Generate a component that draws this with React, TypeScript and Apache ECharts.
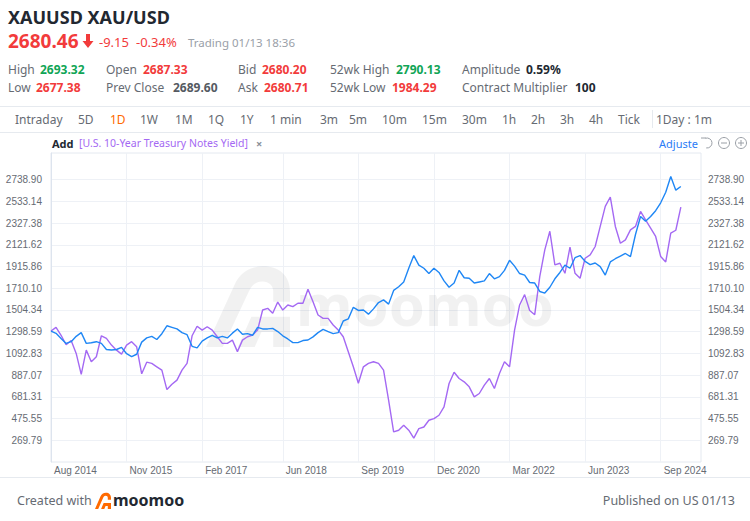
import React, { useEffect, useRef } from "react";
import * as echarts from "echarts";

// ---------- data ----------
const MONTH_NAMES = ["Jan", "Feb", "Mar", "Apr", "May", "Jun", "Jul", "Aug", "Sep", "Oct", "Nov", "Dec"];
const START_YEAR = 2014;
const START_MONTH = 7; // Aug
const CATEGORY_COUNT = 130;

const xLabels = ["Aug 2014", "Nov 2015", "Feb 2017", "Jun 2018", "Sep 2019", "Dec 2020", "Mar 2022", "Jun 2023", "Sep 2024"];

const yTicks = [269.79, 475.55, 681.31, 887.07, 1092.83, 1298.59, 1504.34, 1710.1, 1915.86, 2121.62, 2327.38, 2533.14, 2738.9];
const yMin = 64.03;
const yMax = 2992;

// XAUUSD monthly (Aug 2014 -> Jan 2025)
const goldPrice = [
  1305, 1283, 1235, 1188, 1204, 1255, 1290, 1188, 1194, 1204,
  1188, 1130, 1125, 1130, 1150, 1090, 1062, 1085, 1200, 1240,
  1255, 1225, 1280, 1355, 1340, 1325, 1290, 1270, 1160, 1145,
  1210, 1240, 1265, 1240, 1255, 1240, 1285, 1325, 1275, 1280,
  1265, 1340, 1325, 1325, 1330, 1300, 1260, 1230, 1195, 1195,
  1215, 1220, 1250, 1290, 1320, 1300, 1280, 1290, 1400, 1420,
  1530, 1500, 1505, 1465, 1515, 1575, 1600, 1560, 1690, 1725,
  1770, 1900, 2020, 1930, 1900, 1850, 1900, 1860, 1780, 1720,
  1760, 1880, 1810, 1805, 1760, 1770, 1780, 1850, 1800, 1820,
  1880, 1975, 1920, 1850, 1835, 1765, 1760, 1680, 1665, 1720,
  1800, 1860, 1930, 1900, 2000, 2020, 1965, 1935, 1950, 1915,
  1835, 1960, 1990, 2015, 2040, 2010, 2220, 2390, 2345, 2390,
  2445, 2520, 2620, 2770, 2640, 2675,
];

// U.S. 10-Year Treasury Notes Yield, overlaid on the price scale
const treasuryYield = [
  1305, 1340, 1265, 1175, 1215, 1093, 895, 1124, 1014, 1061,
  1260, 1235, 1172, 1124, 1086, 1172, 1204, 1156, 900, 1010,
  998, 966, 934, 750, 800, 840, 934, 998, 1260, 1350,
  1314, 1346, 1314, 1251, 1188, 1188, 1219, 1110, 1219, 1251,
  1267, 1314, 1504, 1520, 1473, 1580, 1504, 1552, 1536, 1568,
  1568, 1700, 1583, 1457, 1425, 1425, 1362, 1314, 1251, 1109,
  966, 810, 966, 998, 1014, 998, 934, 650, 349, 365,
  412, 365, 290, 380, 396, 460, 475, 507, 586, 808,
  915, 855, 824, 776, 681, 713, 792, 855, 760, 903,
  1014, 966, 1314, 1552, 1650, 1500, 1460, 1821, 2074, 2250,
  1932, 1947, 1852, 2100, 1852, 1805, 1995, 2026, 2106, 2296,
  2486, 2575, 2296, 2137, 2169, 2264, 2296, 2438, 2359, 2280,
  2201, 2011, 1960, 2232, 2260, 2480,
];

// header texts
const titleText = "XAUUSD XAU/USD";
const lastPrice = "2680.46";
const change = "-9.15";
const changePct = "-0.34%";
const statusText = "Trading 01/13 18:36";
const row1Labels = ["High", "Open", "Bid", "52wk High", "Amplitude"];
const row1Values = ["2693.32", "2687.33", "2680.20", "2790.13", "0.59%"];
const row2Labels = ["Low", "Prev Close", "Ask", "52wk Low", "Contract Multiplier"];
const row2Values = ["2677.38", "2689.60", "2680.71", "1984.29", "100"];
const periodTabs = ["Intraday", "5D", "1D", "1W", "1M", "1Q", "1Y", "1 min", "3m", "5m", "10m", "15m", "30m", "1h", "2h", "3h", "4h", "Tick"];
const periodInfo = "1Day : 1m";
const compareName = "[U.S. 10-Year Treasury Notes Yield]";

// ---------- layout / style ----------
const FAM = '"Noto Sans", sans-serif';
const AXIS_FAM = '"Liberation Sans", Arial, sans-serif';
const RED = "#f23b3b";
const GREEN = "#10a556";
const DARK = "#222831";
const GRAY = "#666b73";
const BLUE_LINE = "#1f87f5";
const PURPLE_LINE = "#a469f3";
const GRID_LINE = "#eef1f6";
const SEP = "#e6eaef";

const row1LabelX = [8, 106, 238, 330, 462];
const row1ValueX = [40, 143, 262, 396, 526];
const row1Colors = [GREEN, RED, RED, GREEN, DARK];
const row2LabelX = [8, 106, 238, 330, 462];
const row2ValueX = [36, 173, 264, 392, 575];
const row2Colors = [RED, "#555a62", RED, RED, DARK];
const tabX = [15, 78, 110, 140, 175, 208, 240, 270, 320, 349, 382, 422, 462, 502, 531, 560, 589, 618];

const LOGO_D =
  "M0 100 L34 26 C40 12 52 4 68 4 C88 4 100 16 100 34 L100 46 L80 46 L80 34 C80 27 75 22 67 22 C59 22 54 27 51 34 L20 100 Z " +
  "M38 100 L54 64 L100 64 L100 100 L80 100 L80 82 L66 82 L58 100 Z";

let registered = false;
function registerLogo() {
  if (registered) return;
  echarts.graphic.registerShape("logo", echarts.graphic.extendPath(LOGO_D, {}));
  registered = true;
}

function txt(x: number, y: number, text: string, color: string, size: number, weight: string = "normal", align: string = "left", extra: any = {}) {
  return {
    type: "text",
    x,
    y,
    silent: true,
    style: {
      text,
      fill: color,
      fontSize: size,
      fontWeight: weight,
      fontFamily: FAM,
      verticalAlign: "middle",
      align,
      ...extra,
    },
  };
}

function hline(y: number, x1: number, x2: number, color: string) {
  return { type: "line", silent: true, shape: { x1, y1: y, x2, y2: y }, style: { stroke: color, lineWidth: 1 } };
}

export default function App() {
  const ref = useRef<HTMLDivElement>(null);

  useEffect(() => {
    if (!ref.current) return;
    registerLogo();
    const chart = echarts.init(ref.current, undefined, { renderer: "svg" });

    const categories: string[] = [];
    for (let i = 0; i < CATEGORY_COUNT; i++) {
      const m = START_MONTH + i;
      categories.push(MONTH_NAMES[m % 12] + " " + (START_YEAR + Math.floor(m / 12)));
    }
    const showLabel = (_idx: number, value: string) => xLabels.includes(value);

    const graphics: any[] = [];
    // title
    graphics.push(txt(8, 17, titleText, DARK, 18, "bold"));
    graphics.push(txt(8, 41, lastPrice, RED, 19, "bold"));
    graphics.push({
      type: "polygon",
      silent: true,
      shape: { points: [[86, 34], [90, 34], [90, 41], [93.5, 41], [88, 48], [82.5, 41], [86, 41]] },
      style: { fill: RED },
    });
    graphics.push(txt(99, 42, change, RED, 13));
    graphics.push(txt(136, 42, changePct, RED, 13));
    graphics.push(txt(188, 42, statusText, "#9aa0a8", 11.5));

    row1Labels.forEach((l, i) => {
      graphics.push(txt(row1LabelX[i], 69, l, GRAY, 12));
      graphics.push(txt(row1ValueX[i], 69, row1Values[i], row1Colors[i], 12, "bold"));
    });
    row2Labels.forEach((l, i) => {
      graphics.push(txt(row2LabelX[i], 87, l, GRAY, 12));
      graphics.push(txt(row2ValueX[i], 87, row2Values[i], row2Colors[i], 12, "bold"));
    });

    // toolbar
    graphics.push(hline(106.5, 0, 750, SEP));
    periodTabs.forEach((t, i) => {
      graphics.push(txt(tabX[i], 119, t, t === "1D" ? "#ff6a00" : GRAY, 12));
    });
    graphics.push({ type: "line", silent: true, shape: { x1: 652.5, y1: 110, x2: 652.5, y2: 128 }, style: { stroke: SEP, lineWidth: 1 } });
    graphics.push(txt(656, 119, periodInfo, GRAY, 12));
    graphics.push(hline(132.5, 0, 750, SEP));

    // compare legend row
    graphics.push(txt(52, 143, "Add", DARK, 11, "bold"));
    graphics.push(txt(79, 143, compareName, PURPLE_LINE, 10.5));
    graphics.push(txt(256, 143, "×", "#8a9099", 11, "bold"));
    graphics.push(txt(659, 143, "Adjusted", "#2b7cf6", 11, "normal", "left", { width: 44, overflow: "truncate", ellipsis: "" }));
    // icons
    graphics.push({ type: "arc", silent: true, shape: { cx: 707, cy: 143, r: 5, startAngle: -Math.PI * 0.6, endAngle: Math.PI * 0.55 }, style: { stroke: "#9a9fa6", lineWidth: 1, fill: "none" } });
    graphics.push({ type: "line", silent: true, shape: { x1: 701, y1: 138, x2: 706, y2: 138 }, style: { stroke: "#9a9fa6", lineWidth: 1 } });
    graphics.push({ type: "circle", silent: true, shape: { cx: 724, cy: 143, r: 5.5 }, style: { stroke: "#9a9fa6", lineWidth: 1, fill: "none" } });
    graphics.push({ type: "line", silent: true, shape: { x1: 721, y1: 143, x2: 727, y2: 143 }, style: { stroke: "#9a9fa6", lineWidth: 1 } });
    graphics.push({ type: "circle", silent: true, shape: { cx: 741, cy: 143, r: 5.5 }, style: { stroke: "#9a9fa6", lineWidth: 1, fill: "none" } });
    graphics.push({ type: "line", silent: true, shape: { x1: 738, y1: 143, x2: 744, y2: 143 }, style: { stroke: "#9a9fa6", lineWidth: 1 } });
    graphics.push({ type: "line", silent: true, shape: { x1: 741, y1: 140, x2: 741, y2: 146 }, style: { stroke: "#9a9fa6", lineWidth: 1 } });

    // watermark
    graphics.push({ type: "logo", silent: true, z: 1, x: 206, y: 263, scaleX: 0.84, scaleY: 0.84, style: { fill: "rgba(0,0,0,0.055)" } });
    graphics.push({ ...txt(296, 303, "moomoo", "rgba(0,0,0,0.055)", 58, "bold"), z: 1 });

    // footer
    graphics.push(hline(477.5, 0, 750, SEP));
    graphics.push(txt(17, 500, "Created with", GRAY, 12.5));
    graphics.push({ type: "logo", silent: true, x: 95, y: 492, scaleX: 0.16, scaleY: 0.17, style: { fill: "#ff6a00" } });
    graphics.push(txt(113, 500, "moomoo", DARK, 16, "bold"));
    graphics.push(txt(735, 500, "Published on US 01/13", GRAY, 12.5, "normal", "right"));

    const yLabel = {
      customValues: yTicks,
      formatter: (v: number) => v.toFixed(2),
      color: GRAY,
      fontSize: 10,
      fontFamily: AXIS_FAM,
    };

    chart.setOption({
      animation: false,
      backgroundColor: "#ffffff",
      grid: { left: 51, right: 49, top: 153, bottom: 59, show: true, borderColor: "#e4e9f0", borderWidth: 1, backgroundColor: "transparent" },
      xAxis: {
        type: "category",
        data: categories,
        boundaryGap: false,
        axisLine: { show: false },
        axisTick: { show: false },
        axisLabel: {
          interval: showLabel,
          align: "left",
          padding: [0, 0, 0, 3],
          margin: 3,
          color: GRAY,
          fontSize: 10,
          fontFamily: AXIS_FAM,
          hideOverlap: false,
        },
        splitLine: { show: true, interval: showLabel, lineStyle: { color: GRID_LINE, width: 1 } },
      },
      yAxis: [
        {
          type: "value",
          position: "left",
          min: yMin,
          max: yMax,
          axisLine: { show: true, lineStyle: { color: "#dde4ee" } },
          axisTick: { show: false, customValues: yTicks },
          axisLabel: { ...yLabel, margin: 9 },
          splitLine: { show: true, lineStyle: { color: GRID_LINE, width: 1 } },
        },
        {
          type: "value",
          position: "right",
          min: yMin,
          max: yMax,
          axisLine: { show: false },
          axisTick: { show: false, customValues: yTicks },
          axisLabel: { ...yLabel, margin: 7 },
          splitLine: { show: false },
        },
      ],
      series: [
        {
          name: "U.S. 10-Year Treasury Notes Yield",
          type: "line",
          data: treasuryYield,
          symbol: "none",
          lineStyle: { color: PURPLE_LINE, width: 1.4 },
          itemStyle: { color: PURPLE_LINE },
          z: 3,
        },
        {
          name: "XAUUSD",
          type: "line",
          data: goldPrice,
          symbol: "none",
          lineStyle: { color: BLUE_LINE, width: 1.4 },
          itemStyle: { color: BLUE_LINE },
          z: 4,
        },
      ],
      graphic: { elements: graphics },
    });

    return () => chart.dispose();
  }, []);

  return <div ref={ref} style={{ position: "fixed", left: 0, top: 0, width: 750, height: 521, background: "#fff" }} />;
}
